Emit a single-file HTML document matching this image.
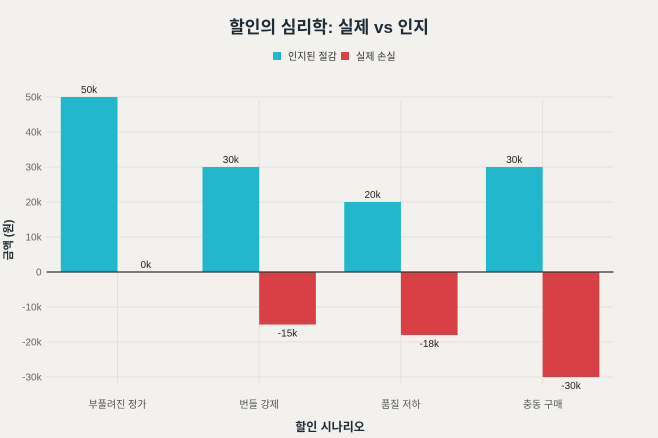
<!DOCTYPE html>
<html><head><meta charset="utf-8"><style>
body{margin:0;background:#f2f1ed;}
svg{display:block;font-family:"Liberation Sans","Noto Sans CJK KR",sans-serif;}
</style></head><body>
<svg id="chart" width="658" height="438">
<rect width="658" height="438" fill="#f2f1ed"/>
<text x="329" y="33" text-anchor="middle" font-size="17" font-weight="bold" fill="#1d2b36">할인의 심리학: 실제 vs 인지</text>
<g>
<g><rect x="273" y="52" width="8" height="8" fill="#22b8cc"/><text x="288" y="60" font-size="10" fill="#333">인지된 절감</text></g>
<g><rect x="341" y="52" width="8" height="8" fill="#d94045"/><text x="356" y="60" font-size="10" fill="#333">실제 손실</text></g>
</g>
<g id="grid"></g><g id="bars"></g><g id="labels"></g>
<text transform="translate(12,240) rotate(-90)" text-anchor="middle" font-size="11" font-weight="bold" fill="#1d2b36">금액 (원)</text>
<text x="330" y="431" text-anchor="middle" font-size="12" font-weight="bold" fill="#1d2b36">할인 시나리오</text>
</svg>
<script>
const categories=["부풀려진 정가","번들 강제","품질 저하","충동 구매"];
const perceived=[50000,30000,20000,30000];
const actual=[0,-15000,-18000,-30000];
const yTicks=[-30000,-20000,-10000,0,10000,20000,30000,40000,50000];
const yTickLabels=["-30k","-20k","-10k","0","10k","20k","30k","40k","50k"];
const NS="http://www.w3.org/2000/svg";
const L=46.6,R=613.5,band=(R-L)/categories.length;
function y(v){return 272-v*0.0035;}
function xc(i){return L+band*(i+0.5);}
function mk(p,t,a,txt){const e=document.createElementNS(NS,t);for(const k in a)e.setAttribute(k,a[k]);if(txt!==undefined)e.textContent=txt;p.appendChild(e);return e;}
const g=document.getElementById('grid'),b=document.getElementById('bars'),lb=document.getElementById('labels');
yTicks.forEach((v,i)=>{
 if(v!==0){const ln=mk(g,'line',{x1:L,x2:R,y1:y(v),y2:y(v),stroke:'#e2e1dc','stroke-width':1});
 
 }
 const t=mk(g,'text',{x:L-5,y:y(v)+3.5,'text-anchor':'end','font-size':10,fill:'#666'},yTickLabels[i]);
 
 
});
categories.forEach((c,i)=>{
 const ln=mk(g,'line',{x1:xc(i),x2:xc(i),y1:100,y2:385,stroke:'#e2e1dc','stroke-width':1});
 
 
 const t=mk(g,'text',{x:xc(i),y:408,'text-anchor':'middle','font-size':10,fill:'#555'},c);
 
 
});
const bw=band*0.4;
const fmt=v=>(v/1000)+'k';
categories.forEach((c,i)=>{
 const v1=perceived[i],x1=xc(i)-bw;
 const r1=mk(b,'rect',{x:x1,y:Math.min(y(v1),y(0)),width:bw,height:Math.abs(y(v1)-y(0)),fill:'#22b8cc'});
 
 
 const t1=mk(lb,'text',{x:x1+bw/2,y:(v1>=0?y(v1)-4:y(v1)+12),'text-anchor':'middle','font-size':10,fill:'#222'},fmt(v1));
 
 
 const v2=actual[i],x2=xc(i);
 const r2=mk(b,'rect',{x:x2,y:Math.min(y(v2),y(0)),width:bw,height:Math.abs(y(v2)-y(0)),fill:'#d94045'});
 
 
 const t2=mk(lb,'text',{x:x2+bw/2,y:(v2>=0?y(v2)-4:y(v2)+12),'text-anchor':'middle','font-size':10,fill:'#222'},fmt(v2));
 
 
});
const z=mk(lb,'line',{x1:L,x2:R,y1:y(0),y2:y(0),stroke:'#333','stroke-width':1.2});


</script>
</body></html>
